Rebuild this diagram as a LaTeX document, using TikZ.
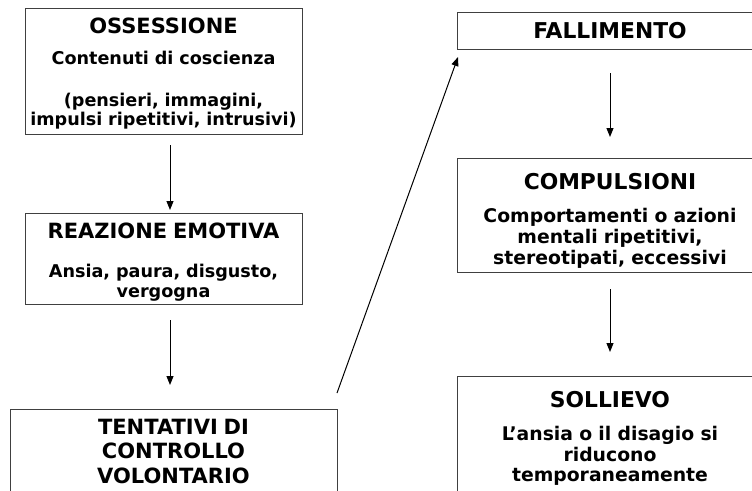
\documentclass[tikz,border=0pt]{standalone}
\usepackage{fontspec}
\setmainfont{DejaVu Sans}
\usetikzlibrary{arrows.meta}

\tikzset{
  box/.style={rectangle, draw=black!75, line width=1pt, inner sep=0pt, outer sep=0pt,
    anchor=north, align=center, font=\fontsize{17.6}{20}\selectfont\bfseries},
  rbox/.style={box, font=\fontsize{18.8}{20}\selectfont\bfseries},
  arr/.style={line width=1pt, -{Triangle[length=9pt,width=7pt]}},
}
\newcommand{\lefthead}[1]{{\fontsize{21}{20}\selectfont #1}}
\newcommand{\righthead}[1]{{\fontsize{21.8}{20}\selectfont #1}}

\begin{document}
\begin{tikzpicture}[x=1pt, y=-1pt]
			%%%%% START %%%%%
			\useasboundingbox (0, 0) rectangle (752, 490);
			\clip (0, 0) rectangle (752, 490);
			
			% left column
			\node[box, text width=277pt, text height=25pt, text depth=101pt] (osse) at (163.5, 8)
				{\lefthead{OSSESSIONE}\\[11pt] Contenuti di coscienza\\[22pt] (pensieri, immagini,\\[-1pt] impulsi ripetitivi, intrusivi)};
			\node[box, text width=277pt, text height=25pt, text depth=66pt] (reaz) at (163.5, 213)
				{\lefthead{REAZIONE EMOTIVA}\\[19pt] Ansia, paura, disgusto,\\ vergogna};
			\node[box, text width=327pt, text height=25pt, text depth=100pt] (tent) at (173.5, 409)
				{\lefthead{TENTATIVI DI}\\[4.5pt] \lefthead{CONTROLLO}\\[5pt] \lefthead{VOLONTARIO}};
			
			% right column
			\node[rbox, text width=306pt, text height=26pt, text depth=11pt] (fall) at (610, 12)
				{\righthead{FALLIMENTO}};
			\node[rbox, text width=306pt, text height=31pt, text depth=83pt] (comp) at (610, 158)
				{\righthead{COMPULSIONI}\\[13pt] Comportamenti o azioni\\[1pt] mentali ripetitivi,\\[1pt] stereotipati, eccessivi};
			\node[rbox, text width=306pt, text height=31pt, text depth=120pt] (soll) at (610, 376)
				{\righthead{SOLLIEVO}\\[13pt] L’ansia o il disagio si\\[1pt] riducono\\ temporaneamente};
			
			% arrows
			\draw[arr, shorten <=11pt, shorten >=3pt] ([xshift=6.5pt]osse.south) -- ([xshift=6.5pt]reaz.north);
			\draw[arr, shorten <=16pt, shorten >=24pt] ([xshift=6.5pt]reaz.south) -- ([xshift=-3.5pt]tent.north);
			\draw[arr] ([yshift=16pt]tent.north east) -- ([xshift=1pt, yshift=-8pt]fall.south west);
			\draw[arr, shorten <=24pt, shorten >=21pt] (fall.south) -- (comp.north);
			\draw[arr, shorten <=17pt, shorten >=24pt] (comp.south) -- (soll.north);
			%%%%% END %%%%%
\end{tikzpicture}
\end{document}
